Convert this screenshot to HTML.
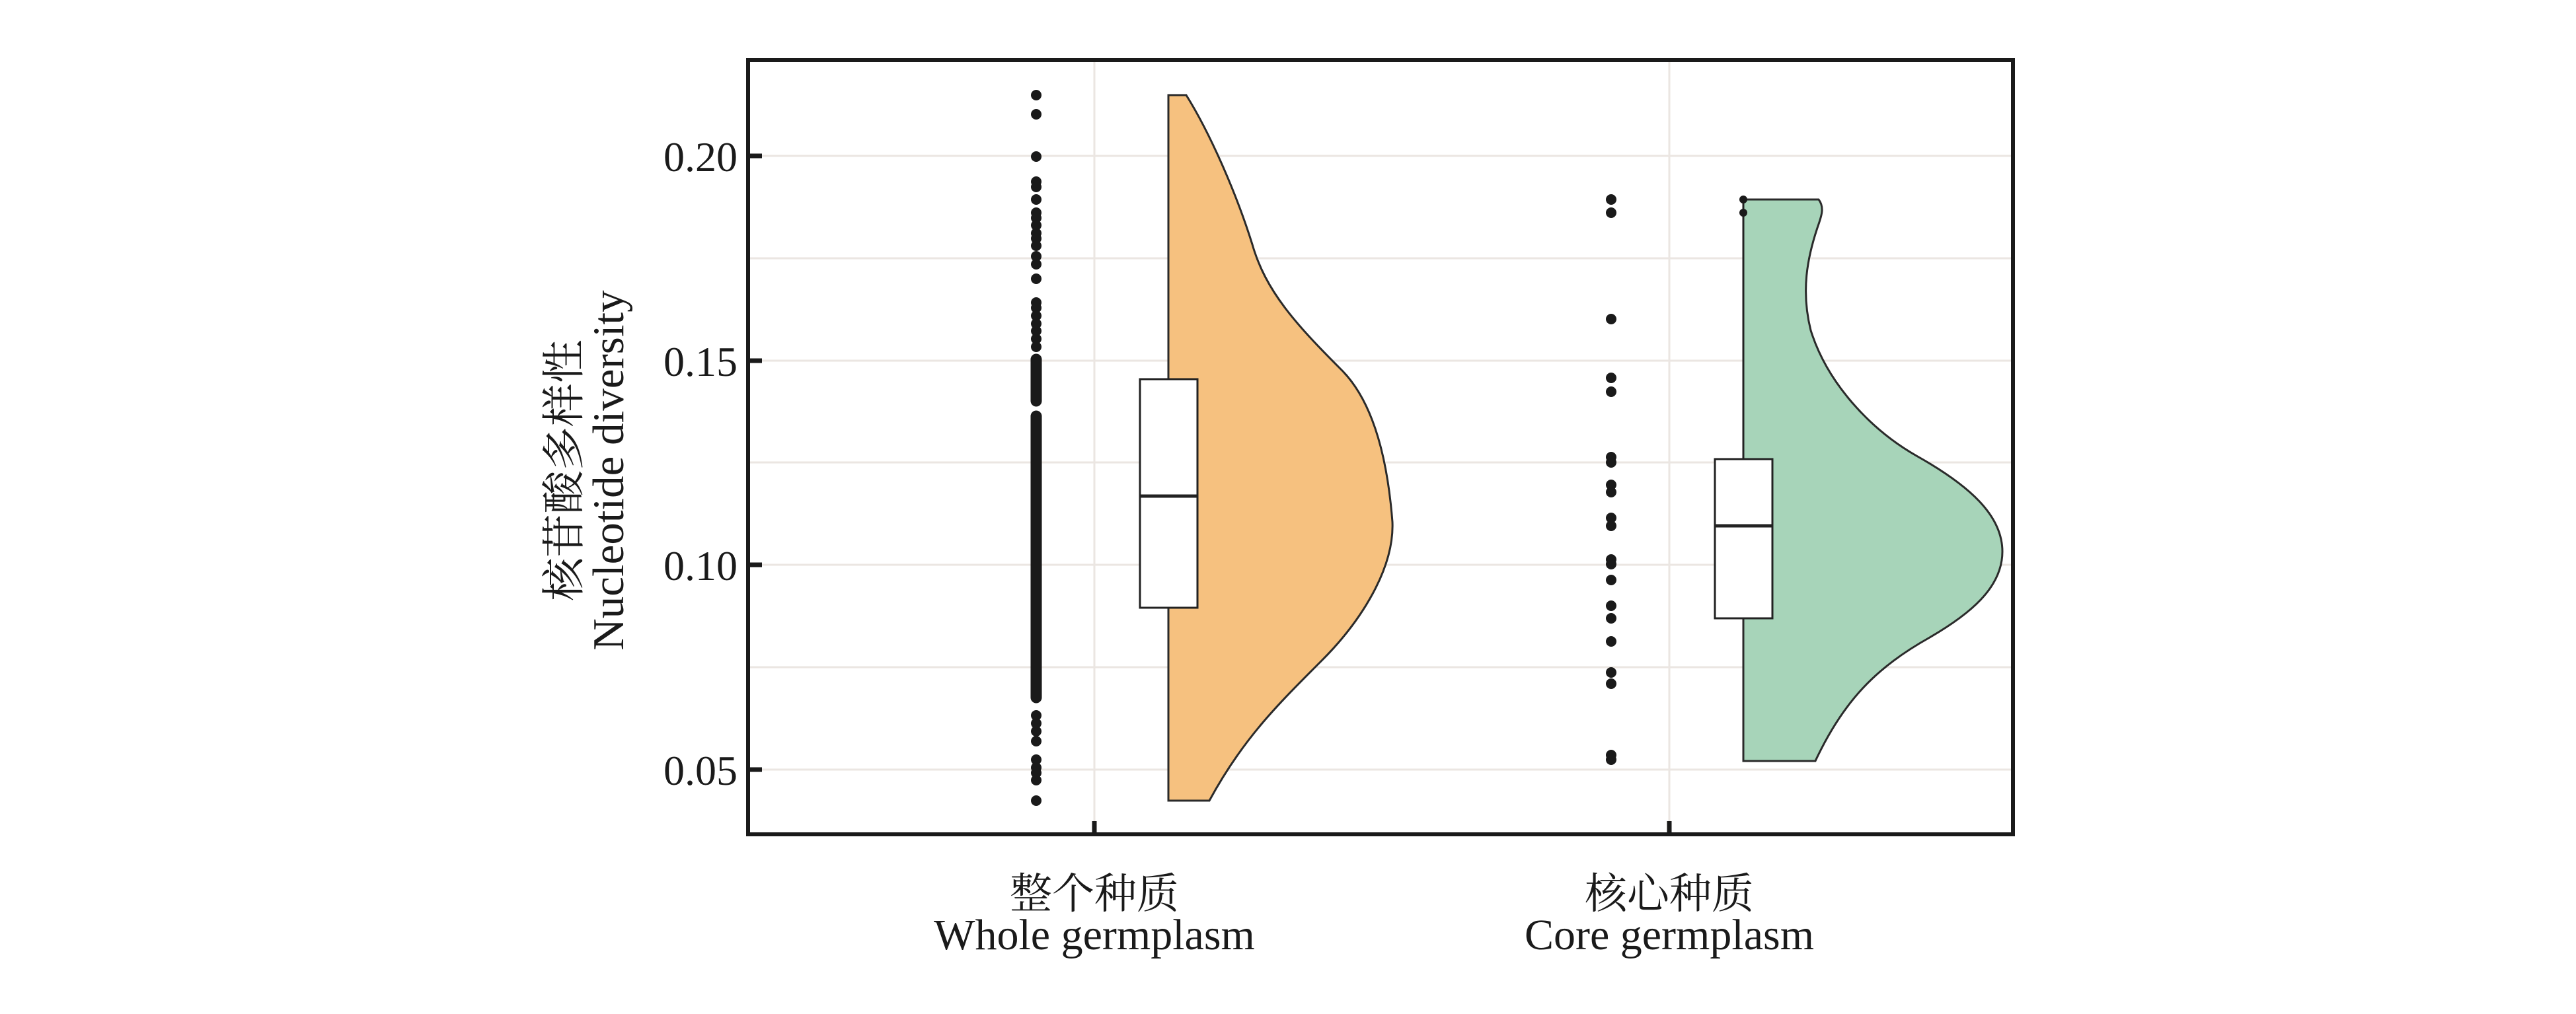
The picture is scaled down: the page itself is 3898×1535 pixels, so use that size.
<!DOCTYPE html>
<html><head><meta charset="utf-8"><style>html,body{margin:0;padding:0;background:#fff}svg{display:block}</style></head>
<body>
<svg width="3898" height="1535" viewBox="0 0 3898 1535" xmlns="http://www.w3.org/2000/svg">
<rect width="3898" height="1535" fill="#fff"/>
<g stroke="#ebe6e2" stroke-width="3">
<line x1="1132" x2="3046" y1="236" y2="236"/><line x1="1132" x2="3046" y1="391" y2="391"/>
<line x1="1132" x2="3046" y1="546" y2="546"/><line x1="1132" x2="3046" y1="700" y2="700"/>
<line x1="1132" x2="3046" y1="855" y2="855"/><line x1="1132" x2="3046" y1="1010" y2="1010"/>
<line x1="1132" x2="3046" y1="1165" y2="1165"/>
<line x1="1656" x2="1656" y1="91" y2="1263"/><line x1="2526" x2="2526" y1="91" y2="1263"/>
</g>
<!-- whole violin -->
<path d="M1768,144 L1795,144 C1830,200 1870,290 1895,370 C1915,440 1960,490 2030,560 C2080,610 2100,700 2107,790 C2110,860 2060,940 2000,1000 C1930,1070 1880,1120 1830,1212 L1768,1212 Z" fill="#f6c17f" stroke="#2a2a2a" stroke-width="3"/>
<!-- core violin -->
<path d="M2638,302 L2752,302 C2762,315 2755,330 2750,345 C2735,390 2725,440 2740,500 C2765,580 2830,650 2900,690 C2980,735 3030,780 3030,835 C3030,890 2980,930 2920,965 C2840,1010 2790,1060 2747,1152 L2638,1152 Z" fill="#a7d4b9" stroke="#2a2a2a" stroke-width="3"/>
<!-- boxes -->
<rect x="1725" y="574" width="87" height="346" fill="#fff" stroke="#222" stroke-width="3"/>
<line x1="1725" x2="1812" y1="751" y2="751" stroke="#222" stroke-width="5"/>
<rect x="2595" y="695" width="87" height="241" fill="#fff" stroke="#222" stroke-width="3"/>
<line x1="2595" x2="2682" y1="796" y2="796" stroke="#222" stroke-width="5"/>
<line x1="2638" x2="2638" y1="302" y2="695" stroke="#222" stroke-width="3"/>
<!-- whole dots -->
<g fill="#1a1a1a">
<circle cx="1568" cy="144" r="8"/><circle cx="1568" cy="173" r="8"/><circle cx="1568" cy="237" r="8"/>
<circle cx="1568" cy="275" r="8"/><circle cx="1568" cy="283" r="8"/><circle cx="1568" cy="302" r="8"/>
<circle cx="1568" cy="322" r="8"/><circle cx="1568" cy="330" r="8"/><circle cx="1568" cy="341" r="8"/>
<circle cx="1568" cy="353" r="8"/><circle cx="1568" cy="361" r="8"/><circle cx="1568" cy="372" r="8"/>
<circle cx="1568" cy="388" r="8"/><circle cx="1568" cy="400" r="8"/><circle cx="1568" cy="422" r="8"/>
<circle cx="1568" cy="458" r="8"/><circle cx="1568" cy="466" r="8"/><circle cx="1568" cy="478" r="8"/>
<circle cx="1568" cy="490" r="8"/><circle cx="1568" cy="501" r="8"/><circle cx="1568" cy="513" r="8"/>
<circle cx="1568" cy="525" r="8"/>
<circle cx="1568" cy="1083" r="8"/><circle cx="1568" cy="1095" r="8"/><circle cx="1568" cy="1107" r="8"/>
<circle cx="1568" cy="1122" r="8"/><circle cx="1568" cy="1150" r="8"/><circle cx="1568" cy="1162" r="8"/>
<circle cx="1568" cy="1170" r="8"/><circle cx="1568" cy="1181" r="8"/><circle cx="1568" cy="1212" r="8"/>
</g>
<g stroke="#1a1a1a" stroke-width="17" stroke-linecap="round">
<line x1="1568" x2="1568" y1="544" y2="607"/>
<line x1="1568" x2="1568" y1="630" y2="1056"/>
</g>
<!-- core dots -->
<g fill="#1a1a1a">
<circle cx="2438" cy="302" r="8"/><circle cx="2438" cy="322" r="8"/><circle cx="2438" cy="483" r="8"/>
<circle cx="2438" cy="572" r="8"/><circle cx="2438" cy="593" r="8"/><circle cx="2438" cy="692" r="8"/>
<circle cx="2438" cy="700" r="8"/><circle cx="2438" cy="734" r="8"/><circle cx="2438" cy="745" r="8"/>
<circle cx="2438" cy="784" r="8"/><circle cx="2438" cy="796" r="8"/><circle cx="2438" cy="847" r="8"/>
<circle cx="2438" cy="854" r="8"/><circle cx="2438" cy="878" r="8"/><circle cx="2438" cy="917" r="8"/>
<circle cx="2438" cy="936" r="8"/><circle cx="2438" cy="971" r="8"/><circle cx="2438" cy="1018" r="8"/>
<circle cx="2438" cy="1035" r="8"/><circle cx="2438" cy="1143" r="8"/><circle cx="2438" cy="1150" r="8"/>
<circle cx="2638" cy="302" r="6"/><circle cx="2638" cy="322" r="6"/>
</g>
<!-- axes -->
<rect x="1132" y="91" width="1914" height="1172" fill="none" stroke="#1a1a1a" stroke-width="6"/>
<g stroke="#1a1a1a" stroke-width="7">
<line x1="1132" x2="1153" y1="236" y2="236"/><line x1="1132" x2="1153" y1="546" y2="546"/>
<line x1="1132" x2="1153" y1="855" y2="855"/><line x1="1132" x2="1153" y1="1165" y2="1165"/>
<line x1="1656" x2="1656" y1="1243" y2="1263"/><line x1="2526" x2="2526" y1="1243" y2="1263"/>
</g>
<g font-family="Liberation Serif, serif" font-size="64" fill="#1a1a1a" text-anchor="end">
<text x="1116" y="259">0.20</text><text x="1116" y="569">0.15</text>
<text x="1116" y="878">0.10</text><text x="1116" y="1188">0.05</text>
</g>
<g transform="translate(0,712) rotate(-90)" text-anchor="middle" fill="#1a1a1a">
<text x="0" y="876" font-family="'Liberation Serif','Noto Serif CJK SC',serif" font-size="66">核苷酸多样性</text>
<text x="0" y="943" font-family="'Liberation Serif',serif" font-size="67">Nucleotide diversity</text>
</g>
<g text-anchor="middle" fill="#1a1a1a">
<text x="1656" y="1375" font-family="'Liberation Serif','Noto Serif CJK SC',serif" font-size="64">整个种质</text>
<text x="1656" y="1437" font-family="'Liberation Serif',serif" font-size="66">Whole germplasm</text>
<text x="2526" y="1375" font-family="'Liberation Serif','Noto Serif CJK SC',serif" font-size="64">核心种质</text>
<text x="2526" y="1437" font-family="'Liberation Serif',serif" font-size="66">Core germplasm</text>
</g>
</svg>
</body></html>
